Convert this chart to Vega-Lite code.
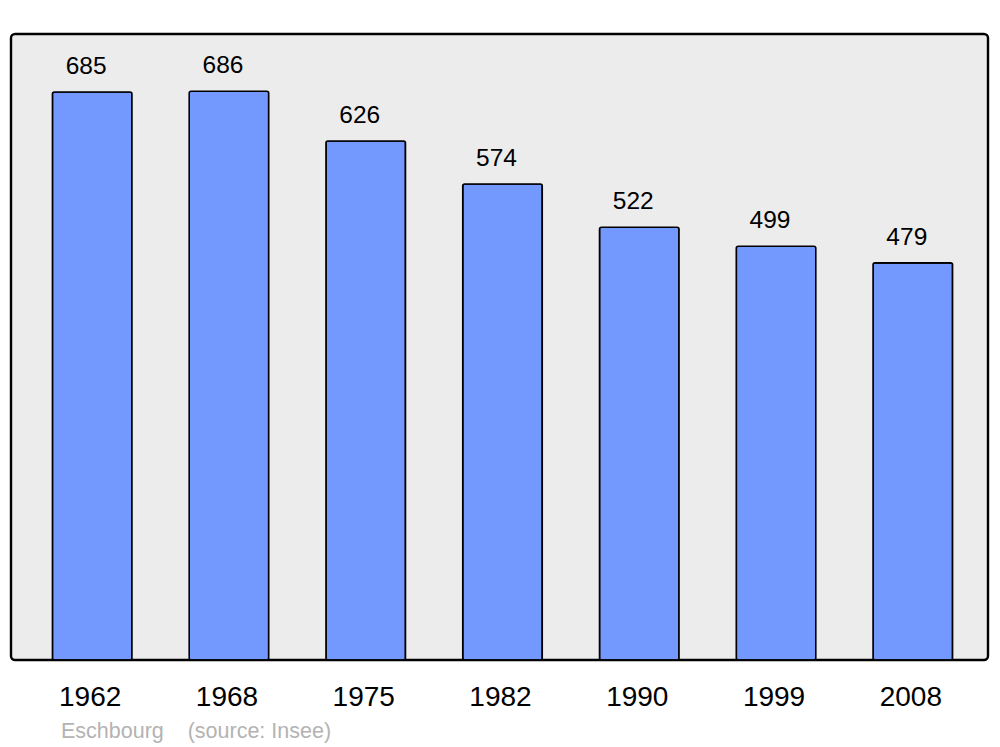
{
  "$schema": "https://vega.github.io/schema/vega-lite/v6.json",
  "autosize": "none",
  "width": 977,
  "height": 626,
  "padding": {"left": 11, "top": 34, "right": 12, "bottom": 87},
  "background": "white",
  "config": {
    "font": "Liberation Sans",
    "view": {"fill": "#ececec", "stroke": "#000000", "strokeWidth": 2.4, "cornerRadius": 4}
  },
  "title": {
    "text": "Eschbourg\u00a0\u00a0\u00a0\u00a0(source: Insee)",
    "orient": "bottom",
    "anchor": "start",
    "frame": "group",
    "dx": 50,
    "offset": 10,
    "font": "Liberation Sans",
    "fontSize": 21.5,
    "fontWeight": "normal",
    "color": "#b3b3b3"
  },
  "data": {
    "values": [
      {"year": "1962", "population": 685},
      {"year": "1968", "population": 686},
      {"year": "1975", "population": 626},
      {"year": "1982", "population": 574},
      {"year": "1990", "population": 522},
      {"year": "1999", "population": 499},
      {"year": "2008", "population": 479}
    ]
  },
  "encoding": {
    "x": {
      "field": "year",
      "type": "ordinal",
      "sort": null,
      "scale": {"paddingInner": 0.4187, "paddingOuter": 0.281, "align": 0.539},
      "axis": {
        "title": null,
        "ticks": false,
        "domain": false,
        "labelAngle": 0,
        "labelFontSize": 28,
        "labelColor": "#000000",
        "labelBaseline": "alphabetic",
        "labelPadding": 45,
        "labelOffset": -2,
        "labelFont": "Liberation Sans"
      }
    },
    "y": {
      "field": "population",
      "type": "quantitative",
      "scale": {"domain": [0, 755], "nice": false, "zero": true},
      "axis": null
    }
  },
  "layer": [
    {
      "mark": {"type": "bar", "fill": "#7399ff", "stroke": "#000000", "strokeWidth": 1.6, "cornerRadius": 2}
    },
    {
      "mark": {"type": "text", "baseline": "alphabetic", "dy": -18, "dx": -6, "fontSize": 24.5, "color": "#000000", "font": "Liberation Sans"},
      "encoding": {"text": {"field": "population", "type": "quantitative"}}
    }
  ]
}
